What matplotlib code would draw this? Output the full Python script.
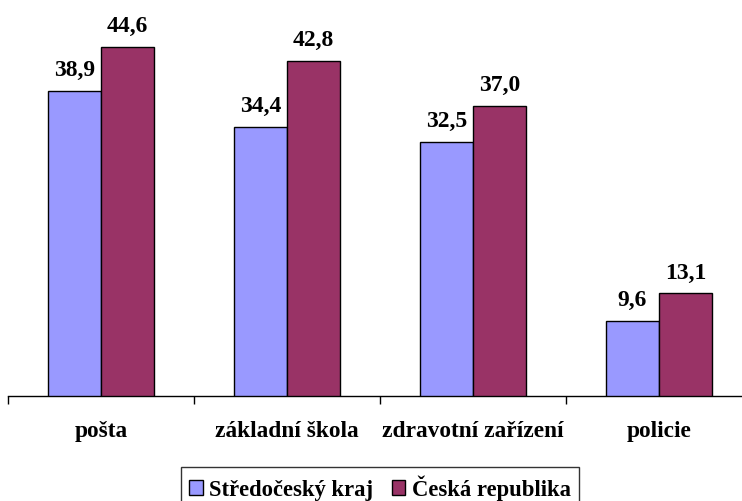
import matplotlib
matplotlib.use("Agg")
import matplotlib.pyplot as plt
import numpy as np

categories = ["pošta", "základní škola", "zdravotní zařízení", "policie"]
series_names = ["Středočeský kraj", "Česká republika"]
stredocesky = [38.9, 34.4, 32.5, 9.6]
cr = [44.6, 42.8, 37.0, 13.1]
colors = ["#9999FF", "#993366"]

plt.rcParams['font.family'] = ['Liberation Serif', 'DejaVu Serif']
plt.rcParams['font.weight'] = 'bold'

fig = plt.figure(figsize=(7.42, 5.02), dpi=100)
W, H = 742, 502
ax = fig.add_axes([8 / W, (H - 397) / H, 744 / W, 391.5 / H])

x = np.arange(len(categories))
bw = 0.285
series = [stredocesky, cr]
for i, (vals, col, name) in enumerate(zip(series, colors, series_names)):
    pos = x + (i - 0.5) * bw
    ax.bar(pos, vals, width=bw, color=col, edgecolor="black", linewidth=1.0, label=name, zorder=3)
    for p, v in zip(pos, vals):
        ax.annotate(f"{v:.1f}".replace(".", ","), (p, v), xytext=(0, 11.5), textcoords="offset points",
                    ha="center", va="baseline", fontsize=17, fontweight="bold")

ax.set_xlim(-0.5, 3.5)
ax.set_ylim(0, 50)
for s in ["top", "right", "left"]:
    ax.spines[s].set_visible(False)
ax.spines["bottom"].set_linewidth(1.0)
ax.set_yticks([])
ax.set_xticks(x)
ax.set_xticklabels(categories, fontsize=16.8, fontweight="bold")
ax.tick_params(axis="x", which="major", length=0, pad=17.5)
ax.set_xticks(np.arange(-0.5, 4.0, 1.0), minor=True)
ax.tick_params(axis="x", which="minor", length=6, width=1.0, direction="out")

leg = fig.legend(loc="upper center", bbox_to_anchor=(380 / W, 1 - 468 / H), ncol=2,
                 frameon=True, fancybox=False, edgecolor="black", fontsize=16.3,
                 handlelength=0.6, handleheight=0.6, handletextpad=0.3, columnspacing=0.8,
                 borderpad=0.35, borderaxespad=0)
leg.get_frame().set_linewidth(1.0)
for t in leg.get_texts():
    t.set_fontweight("bold")

fig.savefig("out.png", dpi=100)
